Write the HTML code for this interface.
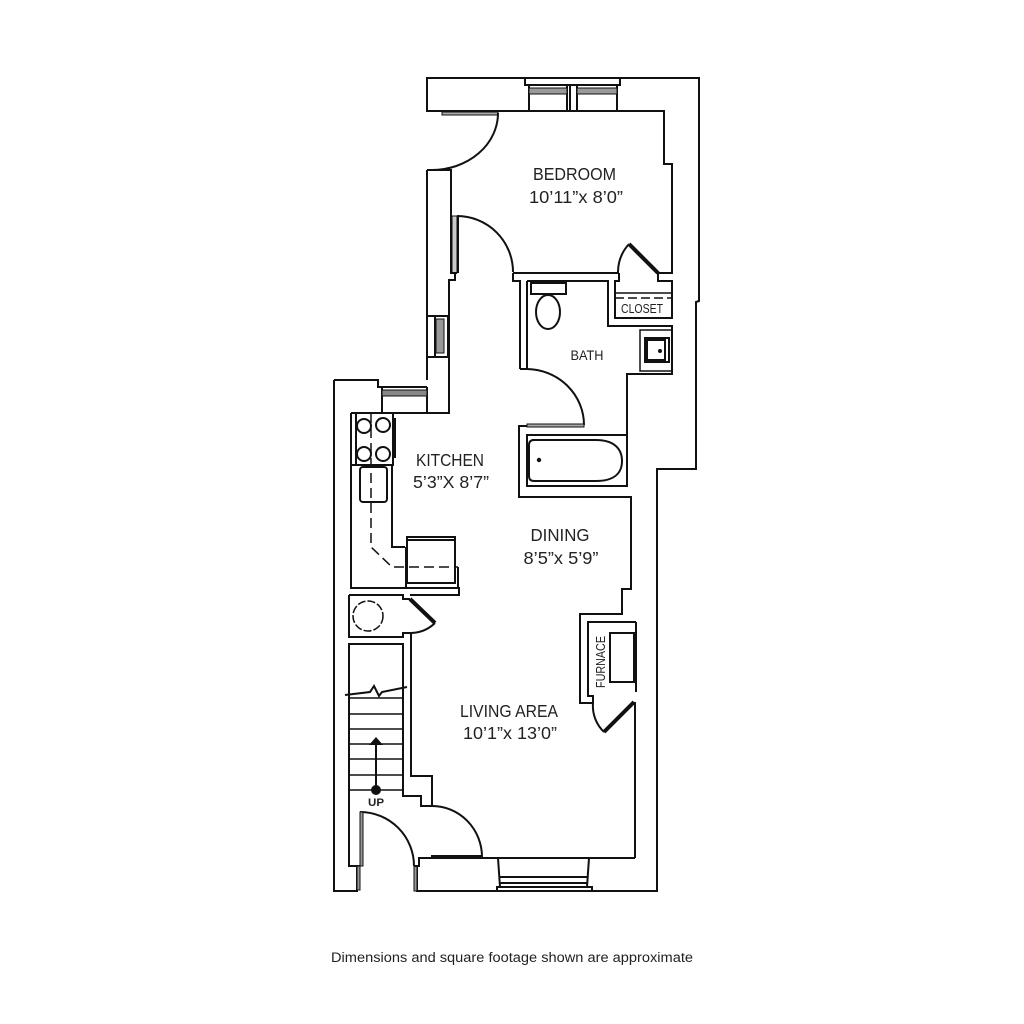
<!DOCTYPE html>
<html><head><meta charset="utf-8"><style>
html,body{margin:0;padding:0;background:#fff}
svg{display:block}
text{font-family:"Liberation Sans",sans-serif;fill:#222}
.w{fill:none;stroke:#111;stroke-width:2;stroke-linejoin:miter}
.t{fill:none;stroke:#111;stroke-width:1.5}
.k{fill:none;stroke:#111;stroke-width:4}
</style></head><body>
<svg width="1024" height="1024" viewBox="0 0 1024 1024" xmlns="http://www.w3.org/2000/svg">
<rect width="1024" height="1024" fill="#fff"/>
<!-- outer shell -->
<path class="w" d="M525 78H427V111H430M525 78H699V301L696 302V469H657V891H417V866M334 380H378V387H427M334 380V891H357V866"/>
<path class="w" d="M427 170V380M427 170H451V273H455V280H449V413H351"/>
<!-- top window -->
<path class="w" d="M525 78V85H620V78M529 85V111M567 85V111M570 85V111M577 85V111M617 85V111"/>
<rect x="529" y="88" width="38" height="6" fill="#999" stroke="#111"/>
<rect x="577" y="88" width="40" height="6" fill="#999" stroke="#111"/>
<!-- bedroom -->
<path class="w" d="M430 111H529M529 111H664V164H672V273H658"/>
<rect x="442" y="112" width="56" height="3" fill="#aaa" stroke="#111"/>
<path class="w" d="M498 113A66 57 0 0 1 432 170"/>
<path class="w" d="M457 216A56 56 0 0 1 513 272"/>
<rect x="452" y="216" width="5" height="57" fill="#ccc" stroke="#111"/>
<path class="w" d="M458 216V273M451 273H457"/>
<path class="w" d="M513 273H619"/>
<path class="k" d="M658 273L629 244"/>
<path class="w" d="M629 244A42 42 0 0 0 618 272"/>
<!-- closet -->
<path class="w" d="M619 273V281H615V318H672V281H658V273"/>
<path class="t" d="M615 293H672"/>
<path class="t" stroke-dasharray="9 4" d="M615 298H672"/>
<!-- bath -->
<path class="w" d="M513 273V281H520V369M527 281V369M520 369H527M527 281H608V326H672V374H627V486H527V435H627"/>
<path class="w" d="M527 369A58 56 0 0 1 584 425"/>
<rect x="527" y="424" width="57" height="3" fill="#aaa" stroke="#111"/>
<path class="w" d="M527 426H519V497H631V589H622V614H580V703H592"/>
<rect x="531" y="283" width="35" height="11" fill="#fff" stroke="#111" stroke-width="2"/>
<ellipse cx="548" cy="312" rx="12" ry="17" class="w"/>
<rect x="640" y="330" width="32" height="41" class="t"/>
<rect x="645" y="338" width="24" height="24" class="w"/>
<path class="w" d="M647 340V360H665V340Z" stroke-width="1.4"/>
<circle cx="660" cy="351" r="2" fill="#111"/>
<path class="w" d="M532 440H596C613 440 622 448 622 461C622 474 613 481 596 481H534Q529 481 529 476V445Q529 440 534 440Z"/>
<circle cx="539" cy="460" r="2.2" fill="#111"/>
<!-- left side window -->
<path class="w" d="M427 316H435V357H427M448 316V357M435 316H448M435 357H448"/>
<rect x="436" y="319" width="8" height="34" fill="#999" stroke="#111"/>
<path class="w" d="M382 387V413M427 387V413"/>
<rect x="382" y="390" width="45" height="6" fill="#888" stroke="#111"/>
<!-- kitchen -->
<path class="w" d="M351 413V588H459V595H410M351 465H393V413M356 413V465"/>
<path class="k" d="M394 418V458" stroke-width="3"/>
<circle cx="364" cy="426" r="7" class="w"/><circle cx="383" cy="425" r="7" class="w"/>
<circle cx="364" cy="454" r="7" class="w"/><circle cx="383" cy="454" r="7" class="w"/>
<rect x="360" y="467" width="27" height="35" rx="3" class="w"/>
<path class="w" d="M392 465V547H405"/>
<path class="w" d="M407 537H455V583H407ZM407 540H455"/>
<path class="w" d="M406 547V588M458 567V588" stroke-width="2.4"/>
<path class="t" stroke-width="2" stroke-dasharray="10 5" d="M371 413V547L392 567H458"/>
<!-- utility closet -->
<path class="w" d="M349 595H403V599H410M349 595V637H403V633H411"/>
<circle cx="368" cy="616" r="15" class="t" stroke-dasharray="8 2"/>
<path class="k" d="M410 599L435 623"/>
<path class="w" d="M435 623A36 36 0 0 1 411 633"/>
<!-- stairs -->
<path class="w" d="M411 633V776H432V806H421V796H403V644H349V866H360"/>
<path class="t" stroke-width="2" d="M349 698H403M349 714H403M349 729H403M349 744H403M349 759H403M349 775H403M349 790H403"/>
<path class="w" d="M345 695L370 692L374 686L379 696L382 692L407 687"/>
<circle cx="376" cy="790" r="5" fill="#111"/>
<path class="w" d="M376 790V742"/>
<path d="M376 737L369 745H383Z" fill="#111"/>
<text x="376" y="806" font-size="11" font-weight="bold" text-anchor="middle" textLength="16" lengthAdjust="spacingAndGlyphs">UP</text>
<!-- entry -->
<path class="w" d="M432 806A50 51 0 0 1 482 857"/>
<path class="w" d="M360 812A54 54 0 0 1 414 866"/>
<rect x="360" y="812" width="3" height="54" fill="#999" stroke="#111"/>
<rect x="357" y="866" width="3" height="24" fill="#999" stroke="#111"/>
<rect x="414" y="866" width="3" height="25" fill="#999" stroke="#111"/>
<path class="w" d="M414 866H419V858H635"/>
<rect x="431" y="855" width="51" height="3" fill="#111"/>
<path class="w" d="M635 858V702M636 622V692"/>
<!-- bottom window -->
<path class="w" d="M498 858L500 887M589 858L587 887M500 877H587M500 883H587M497 891V887H592V891"/>
<!-- furnace -->
<path class="w" d="M636 622H588V696H593V703A36 36 0 0 0 604 732"/>
<path class="k" d="M604 732L634 702"/>
<rect x="610" y="633" width="24" height="49" class="w"/>
<!-- labels -->
<text x="574.5" y="180" font-size="17.5" text-anchor="middle" textLength="83" lengthAdjust="spacingAndGlyphs">BEDROOM</text>
<text x="576" y="203" font-size="17.5" text-anchor="middle" textLength="94" lengthAdjust="spacingAndGlyphs">10’11”x 8’0”</text>
<text x="642" y="313" font-size="13" text-anchor="middle" textLength="42" lengthAdjust="spacingAndGlyphs">CLOSET</text>
<text x="587" y="360" font-size="14" text-anchor="middle" textLength="33" lengthAdjust="spacingAndGlyphs">BATH</text>
<text x="450" y="466" font-size="17.5" text-anchor="middle" textLength="68" lengthAdjust="spacingAndGlyphs">KITCHEN</text>
<text x="451" y="488" font-size="17.5" text-anchor="middle" textLength="76" lengthAdjust="spacingAndGlyphs">5’3”X 8’7”</text>
<text x="560" y="541" font-size="17.5" text-anchor="middle" textLength="59" lengthAdjust="spacingAndGlyphs">DINING</text>
<text x="561" y="564" font-size="17.5" text-anchor="middle" textLength="75" lengthAdjust="spacingAndGlyphs">8’5”x 5’9”</text>
<text x="509" y="717" font-size="17.5" text-anchor="middle" textLength="98" lengthAdjust="spacingAndGlyphs">LIVING AREA</text>
<text x="510" y="739" font-size="17.5" text-anchor="middle" textLength="94" lengthAdjust="spacingAndGlyphs">10’1”x 13’0”</text>
<text x="0" y="0" font-size="13" text-anchor="middle" textLength="52" lengthAdjust="spacingAndGlyphs" transform="translate(605,662) rotate(-90)">FURNACE</text>
<text x="512" y="962" font-size="13.5" text-anchor="middle" textLength="362" lengthAdjust="spacingAndGlyphs">Dimensions and square footage shown are approximate</text>
</svg>
</body></html>
